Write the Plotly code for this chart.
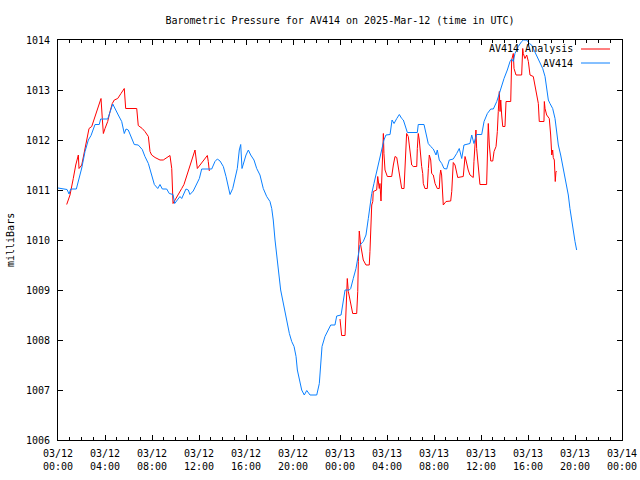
import plotly.graph_objects as go

# ---- data (hours since 2025-03-12 00:00 UTC, pressure in mbar) ----
blue_hours = [0, 0.77, 0.94, 1.08, 1.56, 2.02, 2.30, 2.58, 2.81, 3.15, 3.51, 3.63, 4.23, 4.66, 5.13,
              5.42, 5.64, 5.79, 5.98, 6.21, 6.49, 6.83, 7.17, 7.40, 7.69, 7.97, 8.20, 8.49, 8.68,
              8.88, 9.25, 9.47, 9.79, 9.93, 10.15, 10.38, 10.53, 10.66, 10.89, 11.09, 11.23, 11.51,
              11.74, 12.03, 12.23, 13.08, 13.36, 13.56, 13.79, 14.07, 14.30, 14.49, 14.64, 14.87,
              15.06, 15.26, 15.43, 15.55, 15.66, 15.83, 16.00, 16.20, 16.40, 16.68, 16.91, 17.19,
              17.47, 17.76, 18.04, 18.19, 18.32, 18.47, 18.61, 18.75, 18.95, 19.12, 19.32, 19.46,
              19.69, 19.89, 20.09, 20.26, 20.37, 20.54, 20.74, 20.96, 21.17, 21.45, 22.02, 22.24,
              22.36, 22.47, 22.72, 23.00, 23.21, 23.57, 23.72, 24.09, 24.23, 24.43, 24.79, 24.91,
              25.13, 25.36, 25.56, 25.70, 25.98, 26.21, 26.41, 26.55, 26.70, 26.89, 27.12, 27.34,
              27.55, 27.74, 27.91, 28.26, 28.43, 28.60, 28.83, 29.05, 29.25, 29.39, 29.53, 29.73,
              30.58, 30.66, 31.15, 31.32, 31.51, 31.72, 31.94, 32.17, 32.28, 32.45, 32.66, 32.85,
              33.08, 33.30, 33.64, 33.93, 34.15, 34.36, 34.55, 35.06, 35.21, 35.40, 35.63, 36.06,
              36.26, 36.54, 36.83, 37.05, 37.34, 37.56, 37.68, 37.96, 38.24, 38.47, 38.61, 38.75,
              38.89, 39.17, 39.46, 39.60, 39.89, 40.11, 40.31, 40.51, 40.74, 41.02, 41.25, 41.45,
              41.59, 41.73, 41.87, 42.10, 42.30, 42.44, 42.58, 42.78, 43.00, 43.23, 43.43, 43.57,
              43.72, 43.86, 44.00, 44.14]
blue_mbar = [1011.04, 1011.01, 1010.92, 1011.02, 1011.02, 1011.44, 1011.77, 1012.00, 1012.09, 1012.31,
             1012.31, 1012.42, 1012.42, 1012.72, 1012.50, 1012.37, 1012.13, 1012.22, 1012.20, 1012.07,
             1011.91, 1011.90, 1011.81, 1011.67, 1011.53, 1011.30, 1011.11, 1011.03, 1011.11, 1011.02,
             1011.02, 1010.93, 1010.91, 1010.73, 1010.80, 1010.87, 1010.83, 1010.90, 1011.02, 1011.00,
             1010.91, 1010.98, 1011.10, 1011.23, 1011.42, 1011.42, 1011.57, 1011.62, 1011.58, 1011.47,
             1011.27, 1011.03, 1010.91, 1011.03, 1011.23, 1011.43, 1011.80, 1011.91, 1011.43, 1011.57,
             1011.70, 1011.80, 1011.70, 1011.60, 1011.43, 1011.30, 1011.03, 1010.87, 1010.77, 1010.63,
             1010.40, 1010.00, 1009.67, 1009.33, 1009.00, 1008.80, 1008.60, 1008.40, 1008.13, 1007.97,
             1007.87, 1007.67, 1007.40, 1007.20, 1007.00, 1006.90, 1006.99, 1006.90, 1006.90, 1007.13,
             1007.53, 1007.87, 1008.07, 1008.20, 1008.30, 1008.30, 1008.48, 1008.50, 1008.73, 1009.00,
             1009.00, 1009.03, 1009.23, 1009.43, 1009.70, 1009.90, 1009.97, 1010.10, 1010.43, 1010.70,
             1010.93, 1011.13, 1011.37, 1011.63, 1011.83, 1012.00, 1012.10, 1012.11, 1012.40, 1012.33,
             1012.43, 1012.51, 1012.43, 1012.40, 1012.30, 1012.15, 1012.15, 1012.31, 1012.31, 1012.10,
             1011.93, 1011.87, 1011.82, 1011.70, 1011.80, 1011.60, 1011.53, 1011.43, 1011.42, 1011.60,
             1011.62, 1011.73, 1011.83, 1011.63, 1011.90, 1011.93, 1012.10, 1011.93, 1012.11, 1012.11,
             1012.37, 1012.53, 1012.62, 1012.62, 1012.77, 1012.93, 1013.03, 1013.23, 1013.40, 1013.57,
             1013.62, 1013.57, 1013.73, 1013.87, 1013.97, 1014.00, 1014.00, 1013.93, 1013.90, 1013.80,
             1013.70, 1013.57, 1013.43, 1013.27, 1013.00, 1012.80, 1012.73, 1012.63, 1012.43, 1012.17,
             1011.90, 1011.70, 1011.43, 1011.17, 1010.90, 1010.63, 1010.37, 1010.17, 1009.97, 1009.80]

red_hours = [0.74, 1.02, 1.30, 1.51, 1.73, 1.79, 2.02, 2.24, 2.44, 2.64, 2.87, 3.09, 3.38, 3.66, 3.77,
             3.86, 4.00, 4.23, 4.43, 4.62, 4.79, 5.08, 5.36, 5.64, 5.76, 6.70, 6.83, 7.17, 7.40, 7.69,
             7.83, 7.97, 8.26, 8.68, 8.96, 9.25, 9.53, 9.68, 9.79, 9.96, 10.24, 10.53, 10.72, 10.95,
             11.17, 11.40, 11.66, 11.86, 12.09, 12.31, 12.51, 12.71, 12.79, 12.88,
             18.0,
             24.00, 24.14, 24.43, 24.51, 24.57, 24.62, 24.71, 24.79, 24.91, 25.08, 25.42, 25.51, 25.56,
             25.64, 25.76, 25.85, 25.98, 26.21, 26.49, 26.55, 26.61, 26.70, 26.79, 26.83, 27.12, 27.21,
             27.34, 27.40, 27.49, 27.55, 27.63, 27.69, 27.74, 27.83, 28.03, 28.40, 28.54, 28.68, 28.83,
             28.96, 29.11, 29.25, 29.45, 29.53, 29.62, 29.67, 29.81, 29.96, 30.10, 30.24, 30.53, 30.58,
             30.66, 30.75, 30.87, 30.95, 31.04, 31.09, 31.23, 31.43, 31.52, 31.60, 31.72, 31.80, 31.94,
             32.09, 32.28, 32.45, 32.51, 32.57, 32.65, 32.74, 32.79, 33.02, 33.42, 33.51, 33.59, 33.64,
             33.79, 33.93, 34.02, 34.49, 34.55, 34.64, 34.72, 34.83, 34.91, 35.06, 35.34, 35.40, 35.49,
             35.57, 35.63, 35.72, 35.83, 35.91, 36.48, 36.54, 36.62, 36.71, 36.83, 37.00, 37.11, 37.28,
             37.39, 37.47, 37.56, 37.62, 37.68, 37.76, 37.85, 38.04, 38.13, 38.53, 38.61, 38.75, 38.81,
             38.98, 39.46, 39.55, 39.60, 39.74, 39.89, 40.03, 40.17, 40.45, 40.60, 40.74, 40.88, 40.96,
             41.36, 41.39, 41.45, 41.59, 41.81, 41.93, 42.02, 42.10, 42.15, 42.24, 42.32, 42.38, 42.44]
red_mbar = [1010.71, 1010.90, 1011.23, 1011.50, 1011.70, 1011.43, 1011.50, 1011.77, 1012.00, 1012.23,
            1012.27, 1012.43, 1012.60, 1012.83, 1012.43, 1012.13, 1012.23, 1012.37, 1012.57, 1012.73,
            1012.80, 1012.83, 1012.93, 1013.03, 1012.63, 1012.63, 1012.29, 1012.23, 1012.17, 1012.07,
            1011.77, 1011.70, 1011.65, 1011.60, 1011.60, 1011.65, 1011.69, 1011.43, 1010.73, 1010.80,
            1010.90, 1011.03, 1011.11, 1011.27, 1011.43, 1011.60, 1011.80, 1011.43, 1011.50, 1011.57,
            1011.63, 1011.69, 1011.57, 1011.38,
            None,
            1008.42, 1008.09, 1008.09, 1008.50, 1008.87, 1009.23, 1008.97, 1008.87, 1008.77, 1008.53,
            1008.53, 1008.97, 1009.57, 1010.18, 1009.90, 1009.77, 1009.60, 1009.50, 1009.50, 1009.77,
            1010.37, 1010.70, 1010.77, 1010.97, 1011.00, 1011.27, 1011.03, 1011.13, 1010.78, 1011.37,
            1011.83, 1012.13, 1011.73, 1011.40, 1011.27, 1011.27, 1011.50, 1011.67, 1011.65, 1011.43,
            1011.17, 1011.03, 1011.03, 1011.37, 1011.90, 1012.13, 1012.07, 1011.73, 1011.50, 1011.47,
            1011.47, 1011.83, 1012.13, 1012.00, 1011.63, 1011.47, 1011.33, 1011.13, 1011.03, 1011.03,
            1011.43, 1011.70, 1011.60, 1011.33, 1011.30, 1011.13, 1011.03, 1011.03, 1011.30, 1011.40,
            1011.30, 1010.90, 1010.70, 1010.77, 1010.78, 1010.97, 1011.30, 1011.55, 1011.50, 1011.30,
            1011.25, 1011.27, 1011.50, 1011.67, 1011.60, 1011.43, 1011.40, 1011.30, 1011.25, 1011.57,
            1011.97, 1012.20, 1011.83, 1011.57, 1011.30, 1011.11, 1011.11, 1011.77, 1012.33, 1011.90,
            1011.58, 1011.58, 1011.77, 1011.87, 1012.17, 1012.57, 1012.97, 1012.57, 1012.80, 1012.50,
            1012.27, 1012.27, 1012.77, 1012.77, 1013.60, 1013.73, 1013.43, 1013.30, 1013.30, 1013.83,
            1013.73, 1013.63, 1013.70, 1013.57, 1013.30, 1013.27, 1013.07, 1012.90, 1012.73, 1012.37,
            1012.37, 1012.77, 1012.63, 1012.50, 1012.43, 1012.10, 1011.70, 1011.80, 1011.65, 1011.60,
            1011.17, 1011.37, 1011.37]

tick_hours = [0, 4, 8, 12, 16, 20, 24, 28, 32, 36, 40, 44, 48]
tick_labels = ["03/12<br>00:00", "03/12<br>04:00", "03/12<br>08:00", "03/12<br>12:00",
               "03/12<br>16:00", "03/12<br>20:00", "03/13<br>00:00", "03/13<br>04:00",
               "03/13<br>08:00", "03/13<br>12:00", "03/13<br>16:00", "03/13<br>20:00",
               "03/14<br>00:00"]
y_ticks = [1006, 1007, 1008, 1009, 1010, 1011, 1012, 1013, 1014]

series_names = ["AV414 Analysis", "AV414"]
red_color = "#ff0000"
blue_color = "#0a80ff"

FONT = "DejaVu Sans Mono"

fig = go.Figure()
fig.add_trace(go.Scatter(x=red_hours, y=red_mbar, mode="lines", name=series_names[0],
                         line=dict(color=red_color, width=1), connectgaps=False, showlegend=False))
fig.add_trace(go.Scatter(x=blue_hours, y=blue_mbar, mode="lines", name=series_names[1],
                         line=dict(color=blue_color, width=1), showlegend=False))

# gnuplot-style key: text then line sample, at top right inside plot
L, R, T, B = 58, 18, 40, 40
W, H = 640 - L - R, 480 - T - B
def px(xp):
    return (xp - L) / W
def py(yp):
    return (480 - B - yp) / H

for name, col, ypix in [(series_names[0], red_color, 49), (series_names[1], blue_color, 63)]:
    fig.add_annotation(x=px(575), y=py(ypix), xref="paper", yref="paper", text=name,
                       showarrow=False, xanchor="right", yanchor="middle",
                       font=dict(family=FONT, size=10, color="black"))
    fig.add_shape(type="line", xref="paper", yref="paper", x0=px(581), x1=px(610),
                  y0=py(ypix), y1=py(ypix), line=dict(color=col, width=1))

fig.add_annotation(x=px(10), y=0.5, xref="paper", yref="paper", text="milliBars",
                   textangle=-90, showarrow=False, xanchor="center", yanchor="middle",
                   font=dict(family=FONT, size=10, color="black"))

fig.update_layout(
    width=640, height=480,
    margin=dict(l=L, r=R, t=T, b=B, pad=0, autoexpand=False),
    paper_bgcolor="white", plot_bgcolor="white",
    font=dict(family=FONT, size=10, color="black"),
    title=dict(text="Barometric Pressure for AV414 on 2025-Mar-12 (time in UTC)",
               x=340 / 640, xanchor="center", xref="container",
               y=1 - 20 / 480, yanchor="middle", yref="container",
               font=dict(family=FONT, size=10)),
    showlegend=False,
)
fig.update_xaxes(range=[0, 48], tickvals=tick_hours, ticktext=tick_labels, automargin=False,
                 ticks="inside", ticklen=5, tickcolor="black", showline=True, linecolor="black",
                 linewidth=1, mirror="allticks", showgrid=False, zeroline=False,
                 ticklabelstandoff=4,
                 minor=dict(dtick=1, tick0=0, ticks="inside", ticklen=3, tickcolor="black"),
                 tickfont=dict(family=FONT, size=10))
fig.update_yaxes(range=[1006, 1014], tickvals=y_ticks, ticks="inside", ticklen=5, automargin=False,
                 tickcolor="black", showline=True, linecolor="black", linewidth=1,
                 mirror="allticks", showgrid=False, zeroline=False, ticklabelstandoff=5,
                 tickfont=dict(family=FONT, size=10))

fig.write_html("out.html", config={"displayModeBar": False, "staticPlot": True})

# remove the browser's default page margin so the 640x480 figure fills the window
with open("out.html", "r", encoding="utf-8") as f:
    html = f.read()
html = html.replace("<head>", "<head><style>html,body{margin:0;padding:0;overflow:hidden;}</style>", 1)
with open("out.html", "w", encoding="utf-8") as f:
    f.write(html)
